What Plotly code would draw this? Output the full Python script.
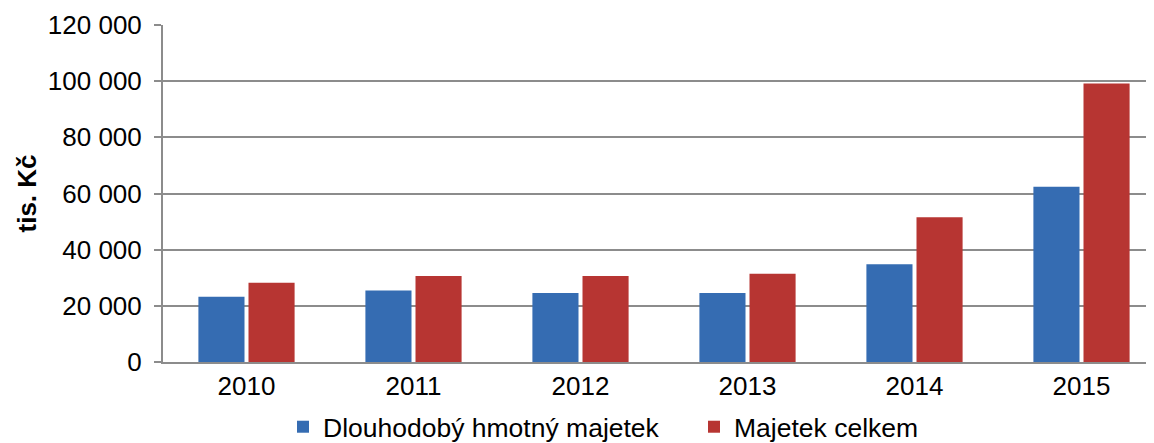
import plotly.graph_objects as go

years = ["2010", "2011", "2012", "2013", "2014", "2015"]
dlouhodoby = [23250, 25500, 24600, 24600, 34800, 62400]
celkem = [28250, 30600, 30600, 31400, 51500, 99200]
series_names = ["Dlouhodobý hmotný majetek", "Majetek celkem"]
y_ticks = [0, 20000, 40000, 60000, 80000, 100000, 120000]

FONT = "Liberation Sans, Arial, sans-serif"
W = 1157

fig = go.Figure()
fig.add_trace(go.Bar(x=years, y=dlouhodoby, name=series_names[0],
                     marker=dict(color="#356CB2", line=dict(width=0))))
fig.add_trace(go.Bar(x=years, y=celkem, name=series_names[1],
                     marker=dict(color="#B73532", line=dict(width=0))))

fig.update_layout(
    width=W, height=443,
    margin=dict(l=155, r=0, t=17, b=89, autoexpand=False),
    paper_bgcolor="white", plot_bgcolor="white",
    barmode="group", bargap=0.4, bargroupgap=0.08,
    separators=", ",
    font=dict(family=FONT, size=26, color="#000000"),
    showlegend=True,
    legend=dict(orientation="h", xref="container", yref="container",
                x=275/W, xanchor="left", y=0.0, yanchor="bottom",
                font=dict(size=26.5), itemwidth=30, traceorder="normal",
                entrywidth=366, bgcolor="rgba(0,0,0,0)"),
    annotations=[dict(text="<b>tis. Kč</b>", textangle=-90, xref="paper", yref="paper",
                      x=-137/(W - 155), y=0.5, xanchor="center", yanchor="middle",
                      showarrow=False, font=dict(size=26, family=FONT))],
)
fig.update_xaxes(showline=True, linecolor="#8c8c8c", linewidth=2, ticks="",
                 tickfont=dict(size=26), showgrid=False, automargin=False)
fig.update_yaxes(range=[0, 120000], tickvals=y_ticks, tickformat=",d",
                 showgrid=True, gridcolor="#8c8c8c", gridwidth=2,
                 showline=True, linecolor="#8c8c8c", linewidth=2,
                 ticks="outside", ticklen=7, tickcolor="#8c8c8c", tickwidth=2,
                 ticklabelstandoff=7,
                 tickfont=dict(size=26), zeroline=False, automargin=False)

fig.write_html("out.html")
